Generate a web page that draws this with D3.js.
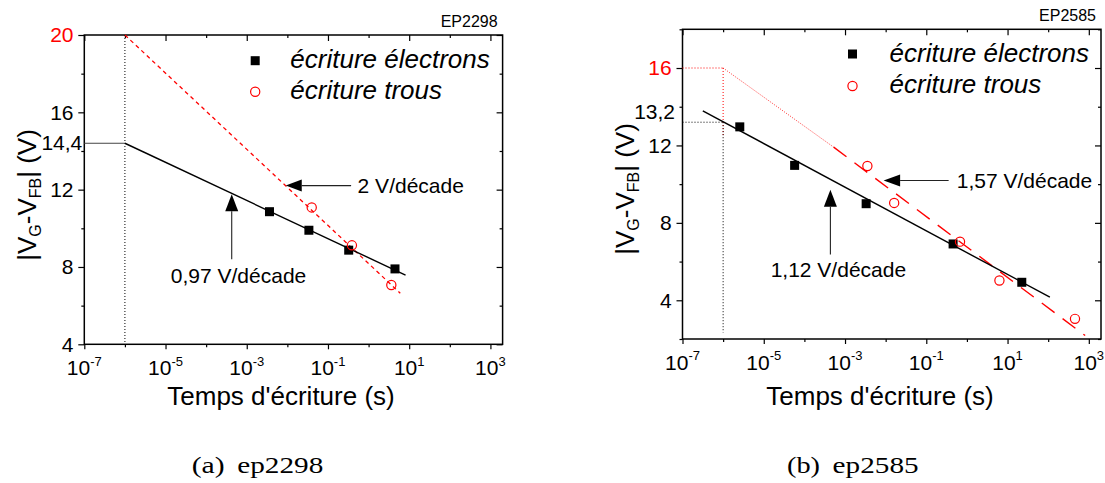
<!DOCTYPE html>
<html><head><meta charset="utf-8">
<script src="https://cdn.jsdelivr.net/npm/d3@7"></script>
<style>
body{margin:0;background:#fff}
svg{display:block}
text{font-family:"Liberation Sans",Arial,sans-serif;fill:#000}
text.serif{font-family:"Liberation Serif","Times New Roman",serif}
</style></head>
<body><svg id="c" width="1105" height="483"></svg>
<script>
// ---------- shared axis data ----------
const xDomainExp = [-7, 3.3];
const xMajorExp = [-7, -5, -3, -1, 1, 3];
const xMinorExp = [-6, -4, -2, 0, 2];
const xTitle = "Temps d'écriture (s)";
const legendLabels = ["écriture électrons", "écriture trous"];

// ---------- panel (a) ep2298 ----------
const aTag = "EP2298";
const aCaption = ["(a)", "ep2298"];
const aYDomain = [4, 20];
const aYMajor = [4, 8, 12, 16, 20];
const aYMinor = [6, 10, 14, 18];
const aElecT = [3.63e-3, 0.0339, 0.324, 4.47];
const aElecV = [10.86, 9.90, 8.87, 7.90];
const aTrouT = [0.0398, 0.389, 3.63];
const aTrouV = [11.08, 9.12, 7.07];
const aFitElecT = [1e-6, 8.13];
const aFitElecV = [14.4, 7.58];
const aFitTrouT = [1e-6, 6.03];
const aFitTrouV = [20, 6.64];
const aSlopeLabels = ["2 V/décade", "0,97 V/décade"];
const aMarkLabel = "14,4";

// ---------- panel (b) ep2585 ----------
const bTag = "EP2585";
const bCaption = ["(b)", "ep2585"];
const bYDomain = [2, 18];
const bYMajor = [4, 8, 12, 16];
const bYMinor = [2, 6, 10, 14, 18];
const bElecT = [2.57e-6, 5.75e-5, 3.31e-3, 0.457, 22.4];
const bElecV = [12.96, 10.97, 8.99, 6.91, 4.93];
const bTrouT = [3.55e-3, 0.0162, 0.676, 6.31, 457];
const bTrouV = [10.94, 9.03, 7.03, 5.02, 3.04];
const bFitElecT = [3.16e-7, 110];
const bFitElecV = [13.79, 4.16];
const bFitTrouT = [5.25e-4, 813];
const bFitTrouV = [11.91, 2.18];
const bExtrapT = [1e-6, 5.25e-4];
const bExtrapV = [16, 11.91];
const bSlopeLabels = ["1,57 V/décade", "1,12 V/décade"];
const bMarkLabel = "13,2";

const svg = d3.select("#c");
const RED = "#ff0000";

function arrow(g, x1, y1, x2, y2, len, wid) {
  const dx = x2 - x1, dy = y2 - y1, L = Math.hypot(dx, dy);
  const ux = dx / L, uy = dy / L, px = -uy, py = ux;
  const bxp = x2 - ux * len, byp = y2 - uy * len;
  g.append("line").attr("x1", x1).attr("y1", y1).attr("x2", bxp).attr("y2", byp)
    .attr("stroke", "#222").attr("stroke-width", 1.1);
  g.append("path").attr("d",
    `M${x2},${y2}L${bxp + px * wid / 2},${byp + py * wid / 2}L${bxp - px * wid / 2},${byp - py * wid / 2}Z`)
    .attr("fill", "#000");
}

function panel(o) {
  const x = d3.scaleLog().domain([10 ** xDomainExp[0], 10 ** xDomainExp[1]]).range([o.x0, o.x1]);
  const y = d3.scaleLinear().domain(o.yDom).range([o.y1, o.y0]);
  const g = svg.append("g");
  const majT = xMajorExp.map(e => 10 ** e), minT = xMinorExp.map(e => 10 ** e);

  const styleAxis = sel => {
    sel.select(".domain").remove();
    sel.selectAll(".tick line").attr("stroke", "#000").attr("stroke-width", 1.2);
  };
  g.append("g").attr("transform", `translate(0,${o.y1})`)
    .call(d3.axisBottom(x).tickValues(majT).tickSize(5).tickFormat("")).call(styleAxis);
  g.append("g").attr("transform", `translate(0,${o.y1})`)
    .call(d3.axisBottom(x).tickValues(minT).tickSize(3).tickFormat("")).call(styleAxis);
  g.append("g").attr("transform", `translate(0,${o.y0})`)
    .call(d3.axisTop(x).tickValues(majT).tickSize(-6).tickFormat("")).call(styleAxis);
  g.append("g").attr("transform", `translate(0,${o.y0})`)
    .call(d3.axisTop(x).tickValues(minT).tickSize(-3).tickFormat("")).call(styleAxis);
  const la = g.append("g").attr("transform", `translate(${o.x0},0)`)
    .call(d3.axisLeft(y).tickValues(o.yMajor).tickSize(6).tickPadding(4.8).tickFormat(d3.format("d")))
    .call(styleAxis);
  la.selectAll(".tick text").attr("font-size", 21)
    .style("fill", d => d === o.redTick ? RED : "#000");
  g.append("g").attr("transform", `translate(${o.x0},0)`)
    .call(d3.axisLeft(y).tickValues(o.yMinor).tickSize(3).tickFormat("")).call(styleAxis);
  g.append("g").attr("transform", `translate(${o.x1},0)`)
    .call(d3.axisRight(y).tickValues(o.yMajor).tickSize(-6).tickFormat("")).call(styleAxis);
  g.append("g").attr("transform", `translate(${o.x1},0)`)
    .call(d3.axisRight(y).tickValues(o.yMinor).tickSize(-3).tickFormat("")).call(styleAxis);

  xMajorExp.forEach(e => {
    const t = g.append("text").attr("x", x(10 ** e)).attr("y", o.y1 + 30.7)
      .attr("text-anchor", "middle").attr("font-size", 21).text("10");
    t.append("tspan").attr("dy", -9.5).attr("font-size", 13).text(e);
  });

  g.append("rect").attr("x", o.x0).attr("y", o.y0).attr("width", o.x1 - o.x0).attr("height", o.y1 - o.y0)
    .attr("fill", "none").attr("stroke", "#000").attr("stroke-width", 1.5);

  g.append("text").attr("x", o.xTitleX).attr("y", 405).attr("text-anchor", "middle")
    .attr("font-size", 26).text(xTitle);
  const yt = g.append("text").attr("transform", `translate(${o.x0 - 48.5},${o.yTitleY}) rotate(-90)`)
    .attr("text-anchor", "middle").attr("font-size", 26);
  yt.append("tspan").text("|V");
  yt.append("tspan").attr("dy", 5).attr("font-size", 16).text("G");
  yt.append("tspan").attr("dy", -5).text("-V");
  yt.append("tspan").attr("dy", 5).attr("font-size", 16).text("FB");
  yt.append("tspan").attr("dy", -5).text("| (V)");

  g.append("text").attr("x", o.x1 - 5).attr("y", o.tagY).attr("text-anchor", "end")
    .attr("font-size", 16).text(o.tag);

  g.append("text").attr("class", "serif").attr("x", o.capX).attr("y", 472.7)
    .attr("font-size", 24).attr("textLength", 33).attr("lengthAdjust", "spacingAndGlyphs").text(o.caption[0]);
  g.append("text").attr("class", "serif").attr("x", o.capX + 45.6).attr("y", 472.7)
    .attr("font-size", 24).attr("textLength", 86).attr("lengthAdjust", "spacingAndGlyphs").text(o.caption[1]);

  return {g, x, y};
}

const line = (x, y) => d3.line().x(d => x(d[0])).y(d => y(d[1]));
const zip = (a, b) => a.map((v, i) => [v, b[i]]);

function marks(P, elT, elV, trT, trV) {
  const {g, x, y} = P;
  g.selectAll(null).data(zip(elT, elV)).join("rect")
    .attr("x", d => x(d[0]) - 4.5).attr("y", d => y(d[1]) - 4.5).attr("width", 9).attr("height", 9).attr("fill", "#000");
  g.selectAll(null).data(zip(trT, trV)).join("circle")
    .attr("cx", d => x(d[0])).attr("cy", d => y(d[1])).attr("r", 4.6)
    .attr("fill", "none").attr("stroke", RED).attr("stroke-width", 1.2);
}

function legend(g, sx, sy1, sy2, tx, b1, b2) {
  g.append("rect").attr("x", sx - 4.5).attr("y", sy1 - 4.5).attr("width", 9).attr("height", 9).attr("fill", "#000");
  g.append("circle").attr("cx", sx).attr("cy", sy2).attr("r", 4.6).attr("fill", "none").attr("stroke", RED).attr("stroke-width", 1.2);
  g.append("text").attr("x", tx).attr("y", b1).attr("font-size", 26).attr("font-style", "italic").text(legendLabels[0]);
  g.append("text").attr("x", tx).attr("y", b2).attr("font-size", 26).attr("font-style", "italic").text(legendLabels[1]);
}

// ================= Panel A =================
const A = panel({x0: 84.3, x1: 502.6, y0: 35, y1: 344.3, yDom: aYDomain, yMajor: aYMajor, yMinor: aYMinor,
  redTick: 20, xTitleX: 281, yTitleY: 195, tag: aTag, tagY: 26.7, caption: aCaption, capX: 191.7});
{
  const {g, x, y} = A;
  g.append("line").attr("x1", x(1e-6)).attr("x2", x(1e-6)).attr("y1", y(20)).attr("y2", y(4))
    .attr("stroke", "#000").attr("stroke-width", 1).attr("stroke-dasharray", "1,2");
  g.append("line").attr("x1", x(1e-7)).attr("x2", x(1e-6)).attr("y1", y(14.4)).attr("y2", y(14.4))
    .attr("stroke", "#444").attr("stroke-width", 1);
  g.append("text").attr("x", x(1e-7) - 2).attr("y", y(14.4) + 6.5).attr("text-anchor", "end")
    .attr("font-size", 21).text(aMarkLabel);
  g.append("path").attr("d", line(x, y)(zip(aFitTrouT, aFitTrouV))).attr("fill", "none")
    .attr("stroke", RED).attr("stroke-width", 1.3).attr("stroke-dasharray", "4,3.5");
  g.append("path").attr("d", line(x, y)(zip(aFitElecT, aFitElecV))).attr("fill", "none")
    .attr("stroke", "#000").attr("stroke-width", 1.4);
  marks(A, aElecT, aElecV, aTrouT, aTrouV);
  legend(g, 255.2, 60.7, 91.7, 290.3, 68.3, 99.3);
  arrow(g, x(10 ** -0.43), y(12.21), x(10 ** -2.04), y(12.21), 16, 12);
  g.append("text").attr("x", x(10 ** -0.27)).attr("y", y(11.81)).attr("font-size", 21).text(aSlopeLabels[0]);
  arrow(g, x(10 ** -3.37), y(8.40), x(10 ** -3.37), y(11.76), 17, 13);
  g.append("text").attr("x", x(10 ** -4.87)).attr("y", y(7.19)).attr("font-size", 21).text(aSlopeLabels[1]);
}

// ================= Panel B =================
const B = panel({x0: 682.5, x1: 1101, y0: 29.3, y1: 339, yDom: bYDomain, yMajor: bYMajor, yMinor: bYMinor,
  redTick: 16, xTitleX: 880, yTitleY: 189, tag: bTag, tagY: 20.7, caption: bCaption, capX: 787});
{
  const {g, x, y} = B;
  g.append("line").attr("x1", x(1e-7)).attr("x2", x(1e-6)).attr("y1", y(16)).attr("y2", y(16))
    .attr("stroke", RED).attr("stroke-width", 1).attr("stroke-dasharray", "1,2");
  g.append("line").attr("x1", x(1e-6)).attr("x2", x(1e-6)).attr("y1", y(16)).attr("y2", y(12.43))
    .attr("stroke", RED).attr("stroke-width", 1).attr("stroke-dasharray", "1,2");
  g.append("line").attr("x1", x(1e-7)).attr("x2", x(1e-6)).attr("y1", y(13.2)).attr("y2", y(13.2))
    .attr("stroke", "#000").attr("stroke-width", 1).attr("stroke-dasharray", "1,2");
  g.append("line").attr("x1", x(1e-6)).attr("x2", x(1e-6)).attr("y1", y(13.2)).attr("y2", y(2.33))
    .attr("stroke", "#000").attr("stroke-width", 1).attr("stroke-dasharray", "1,2");
  g.append("text").attr("x", 675).attr("y", 119).attr("text-anchor", "end")
    .attr("font-size", 21).text(bMarkLabel);
  g.append("path").attr("d", line(x, y)(zip(bExtrapT, bExtrapV))).attr("fill", "none")
    .attr("stroke", RED).attr("stroke-width", 1).attr("stroke-dasharray", "1,1.5").attr("opacity", 0.8);
  g.append("path").attr("d", line(x, y)(zip(bFitTrouT, bFitTrouV))).attr("fill", "none")
    .attr("stroke", RED).attr("stroke-width", 1.4).attr("stroke-dasharray", "16,10");
  g.append("path").attr("d", line(x, y)(zip(bFitElecT, bFitElecV))).attr("fill", "none")
    .attr("stroke", "#000").attr("stroke-width", 1.4);
  marks(B, bElecT, bElecV, bTrouT, bTrouV);
  legend(g, 852.5, 54, 86, 889.6, 61.7, 93.3);
  arrow(g, x(10 ** -0.45), y(10.19), x(10 ** -2.05), y(10.19), 16.5, 12);
  g.append("text").attr("x", x(10 ** -0.25)).attr("y", y(9.81)).attr("font-size", 21).text(bSlopeLabels[0]);
  arrow(g, x(10 ** -3.36), y(6.36), x(10 ** -3.36), y(9.71), 17, 13);
  g.append("text").attr("x", x(10 ** -4.83)).attr("y", y(5.19)).attr("font-size", 21).text(bSlopeLabels[1]);
}
</script></body></html>
